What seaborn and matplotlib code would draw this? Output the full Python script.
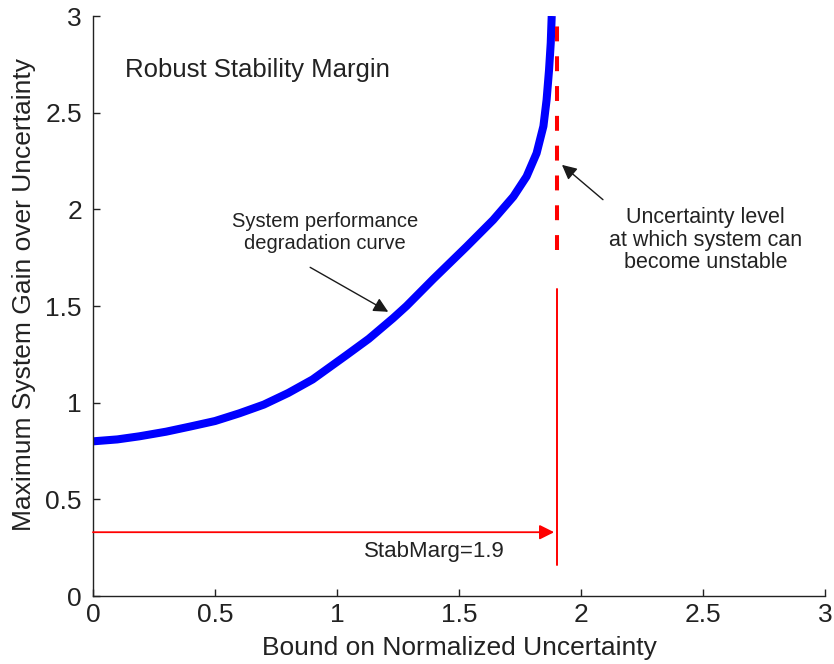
import matplotlib
matplotlib.use('Agg')
import matplotlib.pyplot as plt
import seaborn as sns
import pandas as pd
from matplotlib.ticker import FuncFormatter

# curve
bound = [0.0, 0.10, 0.19, 0.30, 0.40, 0.50, 0.60, 0.70, 0.80, 0.90, 1.04,
         1.13, 1.23, 1.285, 1.395, 1.531, 1.64, 1.723, 1.777, 1.818, 1.846,
         1.859, 1.869, 1.876, 1.88]
max_gain = [0.80, 0.81, 0.826, 0.85, 0.877, 0.905, 0.945, 0.99, 1.05, 1.12,
            1.247, 1.33, 1.437, 1.50, 1.64, 1.807, 1.945, 2.066, 2.17, 2.29,
            2.43, 2.566, 2.72, 2.86, 3.0]

STAB_MARG = 1.9
dashed_span = [1.79, 3.0]       # red dashed marker, y range
solid_span = [0.16, 1.59]       # red solid marker, y range
arrow_y = 0.33
ticks = [0, 0.5, 1, 1.5, 2, 2.5, 3]

BLUE = '#0000FF'
RED = '#FF0000'
INK = '#222222'

sns.set_theme(style="white")
plt.rcParams['font.family'] = ['Liberation Sans', 'DejaVu Sans']

df = pd.DataFrame({'bound': bound, 'gain': max_gain})

fig = plt.figure(figsize=(8.34, 6.64), dpi=100)
fig.patch.set_facecolor('white')
ax = fig.add_axes([0.1115, 0.1024, 0.8777, 0.8735])

sns.lineplot(data=df, x='bound', y='gain', ax=ax, color=BLUE, linewidth=5.8,
             estimator=None, sort=False, solid_capstyle='butt')

# stability margin markers
ax.plot([STAB_MARG, STAB_MARG], dashed_span, color=RED, linewidth=2.9,
        linestyle=(0, (3.7, 3.7)))
ax.plot([STAB_MARG, STAB_MARG], solid_span, color=RED, linewidth=1.4)
ax.annotate('', xy=(STAB_MARG - 0.01, arrow_y), xytext=(0, arrow_y),
            arrowprops=dict(arrowstyle='-|>', color=RED, lw=1.3,
                            mutation_scale=22, shrinkA=0, shrinkB=0))
ax.text(1.40, 0.23, 'StabMarg=1.9', ha='center', va='center', fontsize=16,
        color=INK)

ax.text(0.13, 2.72, 'Robust Stability Margin', ha='left', va='center',
        fontsize=18.5, color=INK)

# annotations
ax.text(0.95, 1.88, 'System performance\ndegradation curve', ha='center',
        va='center', fontsize=14.5, color=INK, linespacing=1.15)
ax.annotate('', xy=(1.21, 1.47), xytext=(0.89, 1.70),
            arrowprops=dict(arrowstyle='-|>', color='k', lw=1.0,
                            mutation_scale=22, shrinkA=0, shrinkB=0))
ax.text(2.51, 1.84, 'Uncertainty level\nat which system can\nbecome unstable',
        ha='center', va='center', fontsize=15.5, color=INK, linespacing=1.1)
ax.annotate('', xy=(1.922, 2.23), xytext=(2.09, 2.05),
            arrowprops=dict(arrowstyle='-|>', color='k', lw=1.0,
                            mutation_scale=22, shrinkA=0, shrinkB=0))

ax.set_xlim(0, 3)
ax.set_ylim(0, 3)
ax.set_xticks(ticks)
ax.set_yticks(ticks)
fmt = FuncFormatter(lambda v, p: f'{v:g}')
ax.xaxis.set_major_formatter(fmt)
ax.yaxis.set_major_formatter(fmt)
ax.tick_params(axis='both', direction='in', length=5, width=1, colors=INK,
               labelsize=19, left=True, bottom=True)
ax.tick_params(axis='x', pad=5)
ax.tick_params(axis='y', pad=8)

for side in ['top', 'right']:
    ax.spines[side].set_visible(False)
for side in ['left', 'bottom']:
    ax.spines[side].set_color(INK)
    ax.spines[side].set_linewidth(1.0)

ax.set_xlabel('Bound on Normalized Uncertainty', fontsize=19, color=INK)
ax.set_ylabel('Maximum System Gain over Uncertainty', fontsize=19, color=INK)
ax.xaxis.set_label_coords(0.5, -0.069)
ax.yaxis.set_label_coords(-0.078, 0.519)

fig.savefig('out.png', dpi=100, facecolor='white')
plt.close(fig)
